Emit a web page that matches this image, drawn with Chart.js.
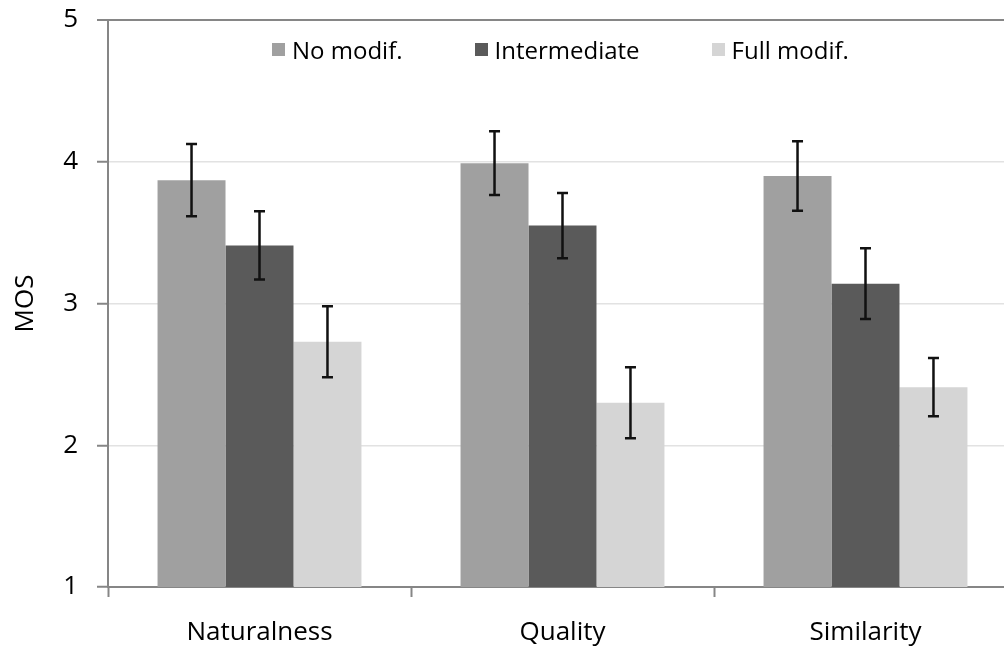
<!DOCTYPE html>
<html>
<head>
<meta charset="utf-8">
<script src="https://cdn.jsdelivr.net/npm/chart.js@4.4.1/dist/chart.umd.min.js"></script>
<style>
    html, body { margin: 0; padding: 0; background: #fff; overflow: hidden; }
    #wrap { position: absolute; left: 0; top: 0; width: 1017px; height: 652px; }
    #legend {
        position: absolute; left: 272px; top: 33px; display: flex; align-items: center;
        font-family: "Open Sans", sans-serif; font-size: 24px; color: #000;
    }
    #legend .item { display: flex; align-items: center; margin-right: 72px; }
    #legend .box { width: 13px; height: 13px; margin-right: 7px; }
</style>
</head>
<body>
<div id="wrap"><canvas id="chart"></canvas></div>
<div id="legend"></div>
<script>
const categories = ['Naturalness', 'Quality', 'Similarity'];
const seriesNames = ['No modif.', 'Intermediate', 'Full modif.'];
const noModif = [3.87, 3.99, 3.90];
const intermediate = [3.41, 3.55, 3.14];
const fullModif = [2.73, 2.30, 2.41];
const errNoModif = [0.255, 0.225, 0.245];
const errIntermediate = [0.24, 0.23, 0.25];
const errFullModif = [0.25, 0.25, 0.205];
const yTicks = [1, 2, 3, 4, 5];

const colors = ['#a0a0a0', '#5a5a5a', '#d5d5d5'];
const values = [noModif, intermediate, fullModif];
const errors = [errNoModif, errIntermediate, errFullModif];
const axisGrey = '#868686';
const font = '"Open Sans", sans-serif';

const errorBars = {
    id: 'errorBars',
    afterDatasetsDraw(chart) {
        const y = chart.scales.y;
        const c = chart.ctx;
        c.save();
        c.strokeStyle = '#111';
        c.lineWidth = 2.5;
        chart.data.datasets.forEach((ds, i) => {
            chart.getDatasetMeta(i).data.forEach((bar, j) => {
                const v = ds.data[j], e = errors[i][j];
                const top = y.getPixelForValue(v + e);
                const bot = y.getPixelForValue(v - e);
                c.beginPath();
                c.moveTo(bar.x, top); c.lineTo(bar.x, bot);
                c.moveTo(bar.x - 5.5, top); c.lineTo(bar.x + 5.5, top);
                c.moveTo(bar.x - 5.5, bot); c.lineTo(bar.x + 5.5, bot);
                c.stroke();
            });
        });
        c.restore();
    }
};

document.getElementById('legend').innerHTML = seriesNames.map((n, i) =>
    `<div class="item"><span class="box" style="background:${colors[i]}"></span>${n}</div>`
).join('');

new Chart(document.getElementById('chart'), {
    type: 'bar',
    data: {
        labels: categories,
        datasets: seriesNames.map((n, i) => ({
            label: n,
            data: values[i],
            backgroundColor: colors[i],
            borderWidth: 0,
            categoryPercentage: 0.673,
            barPercentage: 1,
        })),
    },
    options: {
        responsive: true,
        maintainAspectRatio: false,
        animation: false,
        layout: { padding: { top: 20, right: 0, left: 0, bottom: 0 } },
        plugins: { legend: { display: false }, tooltip: { enabled: false } },
        scales: {
            x: {
                afterFit: (s) => { s.height = 65; s.paddingLeft = 0; s.paddingRight = 0; },
                grid: { offset: true, drawOnChartArea: false, tickLength: 10, tickColor: axisGrey, tickWidth: 2 },
                border: { color: axisGrey, width: 2 },
                ticks: { color: '#000', padding: 20, font: { family: font, size: 26 } },
            },
            y: {
                min: 1,
                max: 5,
                afterFit: (s) => { s.width = 108; s.paddingTop = 0; s.paddingBottom = 0; },
                afterBuildTicks: (s) => { s.ticks = yTicks.map((v) => ({ value: v })); },
                grid: {
                    color: (ctx) => ctx.tick && ctx.tick.value === 5 ? axisGrey : '#e2e2e2',
                    lineWidth: (ctx) => ctx.tick && ctx.tick.value === 5 ? 2 : 1.5,
                    tickLength: 11,
                    tickColor: axisGrey,
                    tickWidth: 2,
                },
                border: { color: axisGrey, width: 2 },
                ticks: { color: '#000', padding: 19, font: { family: font, size: 26 } },
                title: {
                    display: true,
                    text: 'MOS',
                    color: '#000',
                    padding: { top: 10, bottom: 0 },
                    font: { family: font, size: 26 },
                },
            },
        },
    },
    plugins: [errorBars],
});
</script>
</body>
</html>
